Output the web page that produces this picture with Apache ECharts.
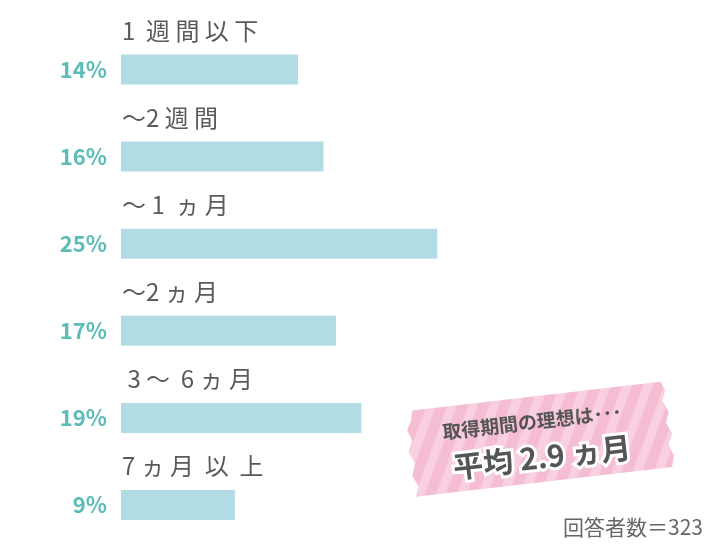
<!DOCTYPE html>
<html>
<head>
<meta charset="utf-8">
<script src="https://cdn.jsdelivr.net/npm/echarts@6/dist/echarts.min.js"></script>
<style>
    html, body { margin: 0; padding: 0; background: #fff; }
    #ecPeriod { width: 720px; height: 545px; }
</style>
</head>
<body>
<div id="ecPeriod"></div>
<script>
// 取得期間（理想）
var categories = ['1  週 間 以 下', '～2 週 間', '～ 1  ヵ 月', '～2 ヵ 月', ' 3 ～  6 ヵ 月', '7 ヵ 月  以  上'];
var percents = [14, 16, 25, 17, 19, 9];
var tapeTitle = '取得期間の理想は･･･';
var tapeValue = '平均 2.9 ヵ月';
var footNote = '回答者数＝323';

var FONT = '"Noto Sans CJK JP", "Noto Sans", sans-serif';

// ストライプ柄のテープ
function stripePattern() {
    var c = document.createElement('canvas');
    var w = 22, h = 44;
    c.width = w;
    c.height = h;
    var ctx = c.getContext('2d');
    ctx.fillStyle = '#f5bdd4';
    ctx.fillRect(0, 0, w, h);
    ctx.fillStyle = '#f8d0e1';
    for (var k = -1; k <= 1; k++) {
        var ox = k * w;
        ctx.beginPath();
        ctx.moveTo(ox + w, 0);
        ctx.lineTo(ox + w + 10, 0);
        ctx.lineTo(ox + 10, h);
        ctx.lineTo(ox, h);
        ctx.closePath();
        ctx.fill();
    }
    return c;
}

// 両端ギザギザ
var tapeShape = [
    [-124, -43], [126, -43], [130, -34], [126, -24], [131, -12], [127, -2], [132, 10], [127, 20], [131, 32], [128, 43],
    [-130, 43], [-126, 33], [-131, 22], [-127, 10], [-132, -2], [-127, -13], [-131, -24], [-126, -33]
];

getechart('ecPeriod', {
    animation: false,
    grid: {
        left: 121,
        right: 93,
        top: 69.5,
        bottom: 40
    },
    xAxis: {
        type: 'value',
        min: 0,
        max: 40,
        show: false
    },
    yAxis: {
        type: 'category',
        inverse: true,
        boundaryGap: false,
        data: categories,
        axisLine: { show: false },
        axisTick: { show: false },
        splitLine: { show: false },
        axisLabel: {
            margin: 14,
            color: '#5bbcb8',
            fontSize: 22,
            fontWeight: 'bold',
            fontFamily: FONT,
            formatter: function (value, index) {
                return percents[index] + '%';
            }
        }
    },
    series: [
        {
            type: 'bar',
            data: percents,
            barWidth: 30,
            itemStyle: { color: '#b2dce4' },
            label: {
                show: true,
                position: [1, -24],
                align: 'left',
                verticalAlign: 'middle',
                color: '#5a5a5a',
                fontSize: 24,
                fontFamily: FONT,
                formatter: '{b}'
            }
        }
    ],
    graphic: [
        {
            type: 'group',
            x: 540,
            y: 439,
            rotation: 0.115,
            children: [
                {
                    type: 'polygon',
                    shape: { points: tapeShape },
                    style: { fill: { image: stripePattern(), repeat: 'repeat' } }
                },
                {
                    type: 'text',
                    x: -6,
                    y: -18,
                    style: {
                        text: tapeTitle,
                        align: 'center',
                        verticalAlign: 'middle',
                        fill: '#555',
                        font: 'bold 19px ' + FONT
                    }
                },
                {
                    type: 'text',
                    x: 0,
                    y: 18,
                    style: {
                        text: tapeValue,
                        align: 'center',
                        verticalAlign: 'middle',
                        fill: '#555',
                        stroke: '#fff',
                        lineWidth: 6,
                        font: 'bold 30px ' + FONT
                    }
                }
            ]
        },
        {
            type: 'text',
            right: 17,
            top: 517,
            style: {
                text: footNote,
                fill: '#666',
                font: '21px ' + FONT
            }
        }
    ]
});

function getechart(idName, idOption) {
    var id = echarts.init(document.getElementById(idName));
    id.setOption(idOption);
    window.addEventListener('resize', function () {
        id.resize();
    });
}
</script>
</body>
</html>
